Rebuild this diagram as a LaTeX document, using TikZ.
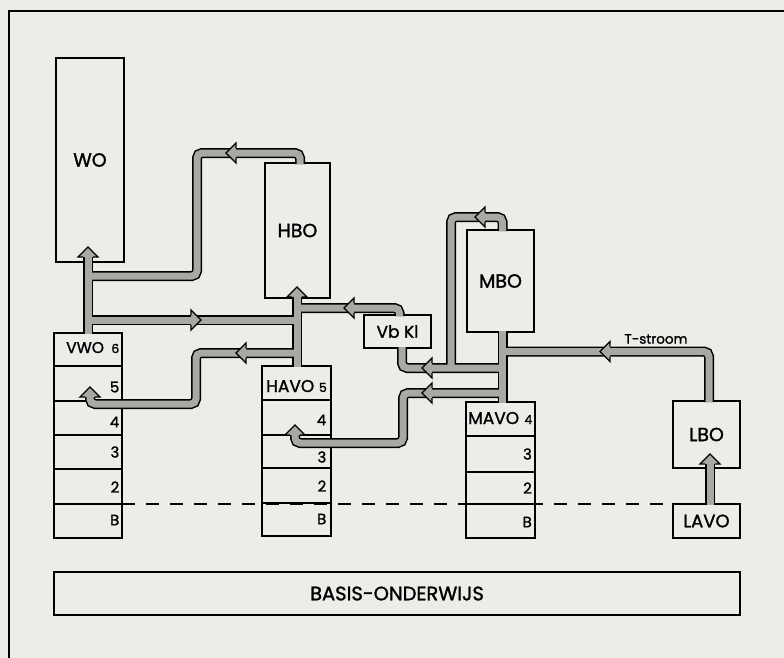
\documentclass[tikz,border=0pt]{standalone}
\usepackage{fontspec}
\setmainfont{Poppins}[FakeBold=1.4]
\usetikzlibrary{calc}
\definecolor{paper}{RGB}{236,236,233}
\definecolor{hatch}{RGB}{168,168,165}
\tikzset{
  thickbox/.style={draw, line width=2.4pt, outer sep=0pt, inner sep=0pt},
  thinbox/.style={draw, line width=1.3pt, outer sep=0pt, inner sep=0pt},
  bigtext/.style={font=\fontsize{19}{21}\selectfont},
  midtext/.style={font=\fontsize{17}{19}\selectfont},
  digit/.style={font=\fontsize{15}{17}\selectfont, inner sep=0pt, anchor=east},
  topdigit/.style={font=\fontsize{12.5}{14}\selectfont, inner sep=0pt, anchor=base east},
  stackname/.style={font=\fontsize{17}{19}\selectfont, inner sep=0pt, anchor=base west},
  bandout/.style={line width=10pt, draw=black, rounded corners=5pt},
  bandin/.style={line width=7pt, draw=hatch, rounded corners=5pt},
  rowline/.style={line width=1.3pt},
  head/.pic={
    \fill[hatch] (0,0) -- (-10,10) -- (-10,-10) -- cycle;
    \draw[line width=1.3pt, line join=miter] (-10,5) -- (-10,10) -- (0,0) -- (-10,-10) -- (-10,-5);
  }
}
\newcommand\allbands[1]{%
  % HBO -> WO
  \draw[#1] ($(HBO.north)+(2.5,1)$) -- (300,153) -- (197,153) -- (197,276) -- (88,276);
  % VWO -> WO
  \draw[#1] ($(VWOst.north)+(0,1)$) -- (88,253);
  % VWO -> HBO
  \draw[#1] (88,320) -- (297,320);
  % HAVO -> HBO
  \draw[#1] ($(HAVOst.north)+(0.5,1)$) -- (297,292);
  % Vb Kl -> HBO
  \draw[#1] ($(VbKl.north)+(2,1)$) -- (399.5,308) -- (297,308);
  % HAVO -> VWO 5
  \draw[#1] (297,353) -- (196,353) -- (196,404) -- (90,404) -- (90,392);
  % MBO -> Vb Kl
  \draw[#1] ($(MBO.north)+(2,1)$) -- (502.5,217) -- (451,217) -- (451,368);
  % MAVO -> MBO
  \draw[#1] ($(MAVOst.north)+(2,1)$) -- ($(MBO.south)+(2,-1)$);
  % MAVO -> Vb Kl
  \draw[#1] (502.5,368) -- (402,368) -- ($(VbKl.south)+(4.5,-1)$);
  % MAVO -> HAVO 4
  \draw[#1] (502.5,393) -- (403,393) -- (403,443) -- (295,443) -- (295,430);
  % T-stroom
  \draw[#1] ($(LBO.north)+(2.5,1)$) -- (709,351.5) -- (502.5,351.5);
  % LAVO -> LBO
  \draw[#1] ($(LAVO.north)+(3.5,1)$) -- (710,459);
}
\begin{document}
\begin{tikzpicture}[x=1pt,y=-1pt]
  \useasboundingbox (0,0) rectangle (784,658);
  \fill[paper] (0,0) rectangle (784,658);
  % frame
  \draw[line width=2pt] (9,658) -- (9,11) -- (784,11);

  % dashed line
  \draw[line width=1.2pt, dash pattern=on 13pt off 11pt] (122,504) -- (673,504);

  % boxes
  \node[thickbox, bigtext, minimum width=68pt, minimum height=204pt] (WO) at (90,160) {WO};
  \node[thickbox, bigtext, minimum width=65pt, minimum height=135pt] (HBO) at (297.5,230.5) {HBO};
  \node[thickbox, bigtext, minimum width=67pt, minimum height=102pt] (MBO) at (500.5,281) {MBO};
  \node[thickbox, midtext, minimum width=67pt, minimum height=33pt] (VbKl) at (397.5,331.5) {Vb Kl};
  \node[thickbox, bigtext, minimum width=67pt, minimum height=67pt] (LBO) at (706.5,434.5) {LBO};
  \node[thinbox, font=\fontsize{18}{20}\selectfont, minimum width=67pt, minimum height=34pt] (LAVO) at (706.5,521) {LAVO};
  \node[thinbox, font=\fontsize{19.5}{21}\selectfont, minimum width=686pt, minimum height=43pt] (BASIS) at (397,593.5) {BASIS-ONDERWIJS};

  % stacks
  \node[thinbox, minimum width=68pt, minimum height=205pt] (VWOst) at (88,435.5) {};
  \foreach \yy in {366,401,435,469,504} \draw[rowline] (54,\yy) -- (122,\yy);
  \node[thinbox, minimum width=69pt, minimum height=170pt] (HAVOst) at (296.5,451) {};
  \foreach \yy in {400,435,468,503} \draw[rowline] (262,\yy) -- (331,\yy);
  \node[thinbox, minimum width=69pt, minimum height=136pt] (MAVOst) at (500.5,470) {};
  \foreach \yy in {436,472,504} \draw[rowline] (466,\yy) -- (535,\yy);

  % stack labels
  \node[stackname, font=\fontsize{15.5}{17}\selectfont] (VWOt) at (66,353) {VWO};
  \node[topdigit] (VWO6) at (119.5,353) {6};
  \node[digit] (VWO5) at (119.5,387) {5};
  \node[digit] (VWO4) at (119.5,422) {4};
  \node[digit] (VWO3) at (119.5,452) {3};
  \node[digit] (VWO2) at (119.5,487) {2};
  \node[digit] (VWOB) at (119.5,520) {B};

  \node[stackname] (HAVOt) at (266,392) {HAVO};
  \node[topdigit] (HAVO5) at (327,392) {5};
  \node[digit] (HAVO4) at (326.5,420) {4};
  \node[digit] (HAVO3) at (326.5,457) {3};
  \node[digit] (HAVO2) at (326.5,486) {2};
  \node[digit] (HAVOB) at (326.5,519) {B};

  \node[stackname] (MAVOt) at (468,424) {MAVO};
  \node[topdigit] (MAVO4) at (532.5,424) {4};
  \node[digit] (MAVO3) at (532,454) {3};
  \node[digit] (MAVO2) at (532,488) {2};
  \node[digit] (MAVOB) at (532,522) {B};

  % bands
  \allbands{bandout}
  \allbands{bandin}

  % arrowheads
  \pic[rotate=180] at (226,153) {head};
  \pic[rotate=90] at (88,247) {head};
  \pic[rotate=0] at (201,320) {head};
  \pic[rotate=90] at (297,287) {head};
  \pic[rotate=180] at (344,308) {head};
  \pic[rotate=180] at (236,353) {head};
  \pic[rotate=90] at (90,387) {head};
  \pic[rotate=180] at (475,217) {head};
  \pic[rotate=180] at (422,368) {head};
  \pic[rotate=180] at (422,393) {head};
  \pic[rotate=90] at (295,425) {head};
  \pic[rotate=180] at (600,351.5) {head};
  \pic[rotate=90] at (710,454) {head};

  % T-stroom label
  \node[font=\fontsize{13.5}{15}\selectfont, inner sep=0pt] (Tlabel) at (656,339) {T-stroom};
\end{tikzpicture}
\end{document}
